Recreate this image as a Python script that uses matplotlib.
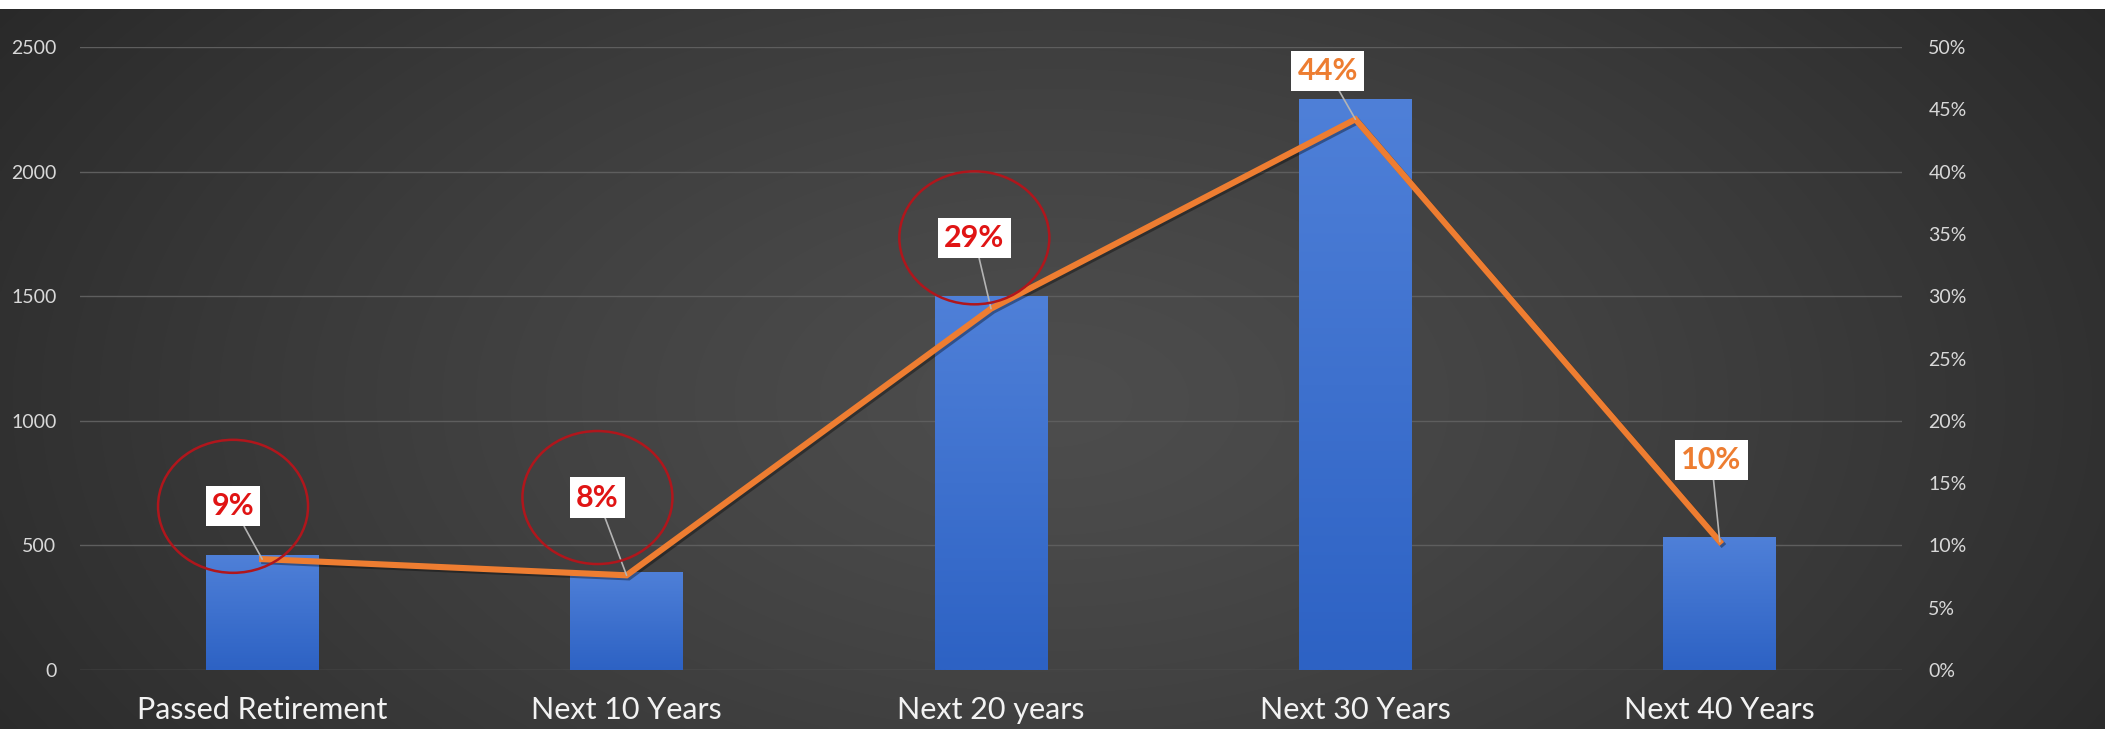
import numpy as np
import matplotlib
matplotlib.use("Agg")
import matplotlib.pyplot as plt
from matplotlib.patches import Ellipse, Rectangle
from matplotlib.transforms import ScaledTranslation
import matplotlib.patheffects as pe
import matplotlib.colors as mcolors

# ---------------- data ----------------
categories = ["Passed Retirement", "Next 10 Years", "Next 20 years", "Next 30 Years", "Next 40 Years"]
counts = [460, 395, 1500, 2290, 535]
shares = [0.089, 0.076, 0.290, 0.442, 0.103]
share_labels = ["9%", "8%", "29%", "44%", "10%"]
highlighted = [True, True, True, False, False]
left_ticks = [0, 500, 1000, 1500, 2000, 2500]
right_ticks = [0.0, 0.05, 0.10, 0.15, 0.20, 0.25, 0.30, 0.35, 0.40, 0.45, 0.50]
right_tick_labels = ["0%", "5%", "10%", "15%", "20%", "25%", "30%", "35%", "40%", "45%", "50%"]
# label offsets from data point (points)
label_offsets = [(-21, 38), (-21, 56), (-12, 51), (-20, 35), (-6, 59)]

plt.rcParams['font.family'] = ['Lato', 'DejaVu Sans']

W, H = 2105, 729
fig = plt.figure(figsize=(W / 100, H / 100), dpi=100)

# ---------------- background (radial gradient) ----------------
bg = fig.add_axes([0, 0, 1, 1], zorder=-10)
yy, xx = np.mgrid[0:1:300j, 0:1:900j]
r = np.sqrt(((xx - 0.50) / 0.60) ** 2 + ((yy - 0.45) / 1.0) ** 2)
t = np.clip(r, 0, 1) ** 1.3
c_center = np.array([0x4d, 0x4d, 0x4d]) / 255
c_edge = np.array([0x29, 0x29, 0x29]) / 255
img = c_center[None, None, :] * (1 - t[..., None]) + c_edge[None, None, :] * t[..., None]
bg.imshow(img, extent=[0, 1, 0, 1], aspect='auto', origin='lower', interpolation='bilinear')
bg.set_xlim(0, 1)
bg.set_ylim(0, 1)
bg.axis('off')
fig.patches.append(Rectangle((0, 1 - 9 / H), 1, 9 / H, transform=fig.transFigure,
                             facecolor='white', edgecolor='none', zorder=5))

# ---------------- main axes ----------------
ax = fig.add_axes([80 / W, 1 - 670 / H, (1902 - 80) / W, (670 - 47) / H])
ax.patch.set_alpha(0)
x = np.arange(len(categories))
bars = ax.bar(x, counts, width=0.31, color='none', edgecolor='none', zorder=2)

grad_cmap = mcolors.LinearSegmentedColormap.from_list('bar', ['#2d62c4', '#4f80d8'])
grad = np.linspace(0, 1, 256).reshape(-1, 1)
for b in bars:
    im = ax.imshow(grad, cmap=grad_cmap, origin='lower', aspect='auto',
                   extent=(b.get_x(), b.get_x() + b.get_width(), 0, b.get_height()),
                   zorder=2)
    im.set_clip_path(b)

ax.set_xlim(-0.5, len(categories) - 0.5)
ax.set_ylim(0, 2500)
ax.set_yticks(left_ticks)
ax.set_yticklabels([str(v) for v in left_ticks])
ax.set_xticks(x)
ax.set_xticklabels(categories)
ax.yaxis.grid(True, color='#5e5e5e', lw=1.0)
ax.set_axisbelow(True)
for s in ax.spines.values():
    s.set_visible(False)
ax.tick_params(axis='y', length=0, pad=17, labelsize=14, labelcolor='#d8d8d8')
ax.tick_params(axis='x', length=0, pad=19, labelsize=22, labelcolor='#f2f2f2')

# ---------------- secondary axis ----------------
ax2 = ax.twinx()
ax2.set_ylim(0, 0.5)
ax2.set_yticks(right_ticks)
ax2.set_yticklabels(right_tick_labels)
for s in ax2.spines.values():
    s.set_visible(False)
ax2.tick_params(axis='y', length=0, pad=19, labelsize=14, labelcolor='#d8d8d8')

ax2.plot(x, shares, color='#EE7D31', lw=4.4, solid_joinstyle='miter', zorder=3,
         path_effects=[pe.SimpleLineShadow(offset=(1.5, -1.5), alpha=0.35), pe.Normal()])

for i, (v, lab, hl, off) in enumerate(zip(shares, share_labels, highlighted, label_offsets)):
    col = '#e01414' if hl else '#ED7D31'
    ax2.annotate(lab, xy=(i, v), xytext=off, textcoords='offset points',
                 ha='center', va='center', fontsize=22, fontweight='bold', color=col,
                 bbox=dict(boxstyle='square,pad=0.2', fc='white', ec='none'),
                 arrowprops=dict(arrowstyle='-', color='#b4b4b4', lw=1.2,
                                 shrinkA=0, shrinkB=0),
                 zorder=6)
    if hl:
        tr = fig.dpi_scale_trans + ScaledTranslation(i, v, ax2.transData)
        ell = Ellipse((off[0] / 72, off[1] / 72), 1.50, 1.33, transform=tr,
                      fill=False, edgecolor='#b0161c', lw=1.8, zorder=7)
        ax2.add_patch(ell)

fig.savefig('out.png', dpi=100)
